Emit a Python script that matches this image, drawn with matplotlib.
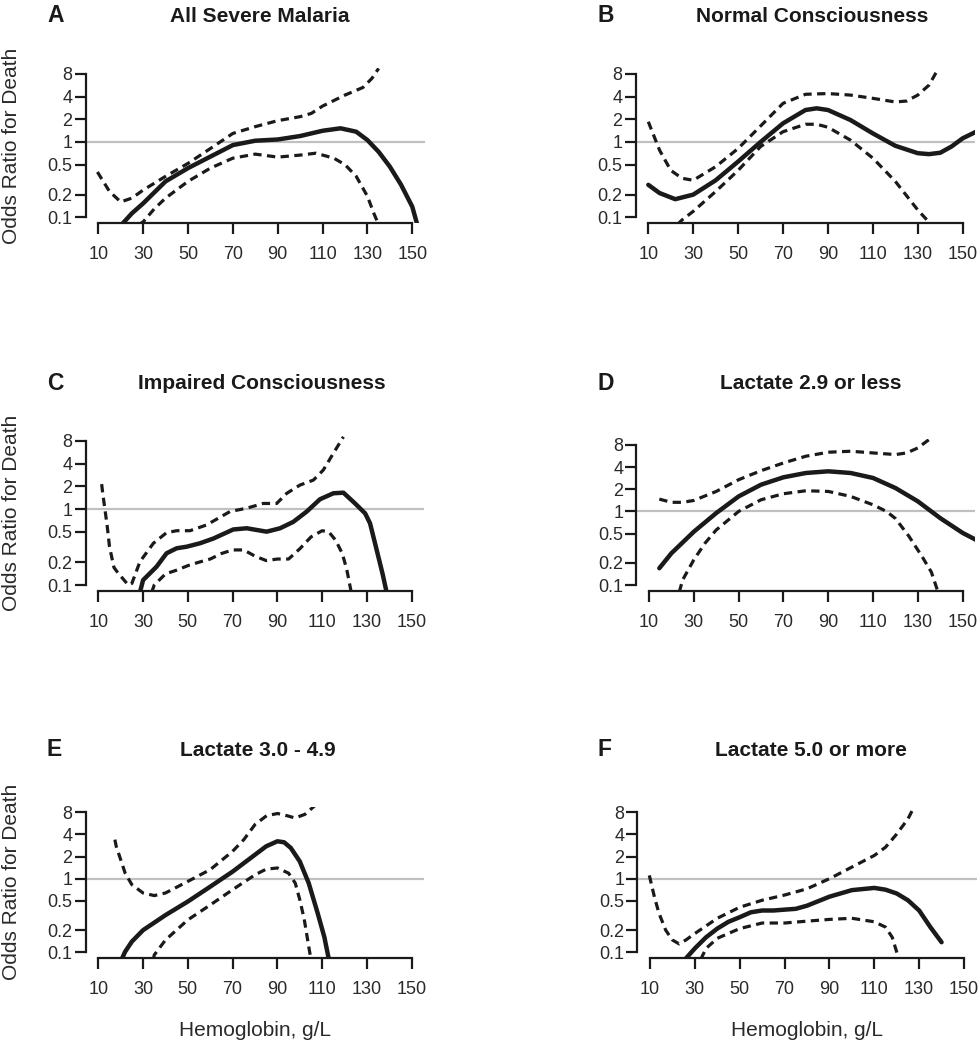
import matplotlib
matplotlib.use("Agg")
import matplotlib.pyplot as plt

plt.rcParams['font.family'] = ['Liberation Sans', 'DejaVu Sans']

# ---- data (hemoglobin g/L vs odds ratio) ----
titles = ["All Severe Malaria", "Normal Consciousness", "Impaired Consciousness",
          "Lactate 2.9 or less", "Lactate 3.0 - 4.9", "Lactate 5.0 or more"]
letters = ["A", "B", "C", "D", "E", "F"]
x_ticks = [10, 30, 50, 70, 90, 110, 130, 150]
y_ticks = [0.1, 0.2, 0.5, 1, 2, 4, 8]
y_ticklabels = ["0.1", "0.2", "0.5", "1", "2", "4", "8"]

# A
a_fit_x = [20.4, 25, 30, 40, 50, 60, 70, 80, 90, 100, 110, 118, 125, 130, 135, 140, 145, 150, 152.2]
a_fit = [0.08, 0.113, 0.153, 0.30, 0.45, 0.64, 0.91, 1.04, 1.08, 1.2, 1.41, 1.52, 1.37, 1.06, 0.74, 0.47, 0.27, 0.138, 0.08]
a_up_x = [9.6, 15, 20, 25, 30, 40, 50, 60, 70, 80, 90, 100, 105, 110, 120, 128, 132, 135]
a_up = [0.40, 0.22, 0.16, 0.18, 0.23, 0.35, 0.52, 0.82, 1.30, 1.6, 1.92, 2.17, 2.4, 3.0, 4.2, 5.3, 7.0, 9.5]
a_lo_x = [28, 30, 35, 40, 50, 60, 70, 80, 90, 100, 107, 115, 120, 125, 130, 133, 135]
a_lo = [0.08, 0.087, 0.13, 0.18, 0.30, 0.45, 0.61, 0.69, 0.63, 0.67, 0.71, 0.61, 0.50, 0.35, 0.19, 0.11, 0.08]

# B
b_fit_x = [10, 15, 22, 30, 40, 50, 60, 70, 80, 85, 90, 100, 110, 120, 130, 135, 140, 145, 150, 156]
b_fit = [0.27, 0.21, 0.174, 0.20, 0.31, 0.55, 1.0, 1.77, 2.66, 2.8, 2.66, 1.96, 1.30, 0.89, 0.71, 0.69, 0.72, 0.87, 1.12, 1.37]
b_up_x = [10, 15, 20, 25, 30, 40, 50, 60, 70, 80, 90, 100, 110, 120, 125, 130, 135, 138, 139.5]
b_up = [1.86, 0.78, 0.42, 0.33, 0.31, 0.47, 0.82, 1.63, 3.26, 4.3, 4.4, 4.2, 3.8, 3.4, 3.5, 4.2, 5.7, 8.2, 9.5]
b_lo_x = [22.9, 25, 30, 40, 50, 60, 70, 80, 85, 90, 100, 110, 120, 130, 136]
b_lo = [0.08, 0.092, 0.12, 0.22, 0.42, 0.87, 1.37, 1.72, 1.72, 1.57, 1.06, 0.61, 0.30, 0.125, 0.08]

# C
c_fit_x = [28.6, 30, 36, 40.5, 45, 49.5, 55.4, 61.4, 70.3, 76.3, 85.2, 91.2, 97.1, 103.1, 109, 115,
           119.5, 124.7, 129.2, 131.4, 134, 137, 138.8]
c_fit = [0.08, 0.116, 0.174, 0.262, 0.305, 0.32, 0.355, 0.41, 0.54, 0.56, 0.505, 0.56, 0.68, 0.93, 1.35, 1.62,
         1.65, 1.19, 0.88, 0.65, 0.32, 0.14, 0.08]
c_up_x = [11.5, 12, 13, 14, 15, 17, 18.9, 23.4, 25, 28.6, 34.6, 40.5, 45, 51, 58.4, 68.8, 76.3, 83.7,
          89.7, 94.2, 100.1, 106.1, 110.5, 115, 119.5]
c_up = [2.14, 1.6, 0.98, 0.59, 0.32, 0.17, 0.143, 0.10, 0.105, 0.203, 0.355, 0.49, 0.52, 0.52, 0.62, 0.93, 1.03, 1.19,
        1.19, 1.62, 2.08, 2.42, 3.28, 5.45, 9.0]
c_lo_x = [33.8, 35, 40, 45, 50, 55, 60, 65, 70, 75, 80, 85, 90, 95, 100, 105, 110, 113, 116, 119, 121, 123]
c_lo = [0.08, 0.10, 0.14, 0.157, 0.18, 0.20, 0.22, 0.26, 0.29, 0.29, 0.24, 0.21, 0.22, 0.22, 0.30, 0.43, 0.52,
        0.50, 0.39, 0.26, 0.16, 0.08]

# D
d_fit_x = [14.6, 20, 30, 40, 50, 60, 70, 80, 90, 100, 110, 120, 130, 140, 150, 156]
d_fit = [0.169, 0.27, 0.53, 0.95, 1.60, 2.31, 2.91, 3.33, 3.51, 3.33, 2.85, 2.08, 1.37, 0.81, 0.51, 0.41]
d_up_x = [14.6, 20, 25, 30, 40, 50, 60, 70, 80, 90, 100, 110, 120, 125, 130, 135, 138.4]
d_up = [1.47, 1.33, 1.33, 1.41, 1.87, 2.70, 3.58, 4.56, 5.63, 6.38, 6.58, 6.24, 5.93, 6.24, 7.3, 9.5, 10.9]
d_lo_x = [23.5, 25, 30, 35, 40, 50, 60, 70, 80, 90, 100, 110, 116, 120, 126, 132, 136, 139]
d_lo = [0.08, 0.117, 0.22, 0.37, 0.56, 1.0, 1.44, 1.74, 1.91, 1.87, 1.60, 1.23, 1.0, 0.8, 0.46, 0.24, 0.15, 0.08]

# E
e_fit_x = [20.4, 22, 25, 30, 40, 50, 60, 70, 80, 85, 90, 93, 96, 100, 104, 108, 111, 113]
e_fit = [0.08, 0.102, 0.14, 0.20, 0.32, 0.49, 0.78, 1.25, 2.12, 2.76, 3.23, 3.13, 2.62, 1.72, 0.87, 0.34, 0.16, 0.08]
e_up_x = [17.4, 18, 20, 22, 25, 30, 35, 40, 50, 60, 70, 75, 80, 85.2, 90.1, 94.2, 97.9, 102.3, 107.3]
e_up = [3.4, 2.76, 1.82, 1.19, 0.83, 0.64, 0.59, 0.64, 0.92, 1.33, 2.36, 3.4, 5.45, 7.2, 7.7, 7.2, 6.7, 7.5, 10.2]
e_lo_x = [34.6, 35, 40, 50, 60, 70, 80, 85, 90, 95, 98, 100, 102, 104, 105]
e_lo = [0.08, 0.092, 0.147, 0.276, 0.44, 0.71, 1.13, 1.35, 1.40, 1.19, 0.87, 0.52, 0.28, 0.12, 0.08]

# F
f_fit_x = [25.6, 30, 35, 40, 45, 50, 55, 60, 65, 70, 75, 80, 90, 100, 110, 115, 120, 125, 130, 135, 140]
f_fit = [0.08, 0.113, 0.16, 0.21, 0.26, 0.30, 0.35, 0.37, 0.37, 0.38, 0.39, 0.43, 0.57, 0.70, 0.75, 0.71, 0.63,
         0.51, 0.37, 0.22, 0.137]
f_up_x = [9.7, 12, 14, 17, 20, 23, 26, 30, 40, 50, 60, 70, 80, 90, 100, 110, 115, 120, 125, 128]
f_up = [1.11, 0.56, 0.34, 0.20, 0.147, 0.13, 0.147, 0.18, 0.29, 0.41, 0.51, 0.60, 0.73, 1.0, 1.44, 2.07, 2.68,
        4.05, 6.5, 9.8]
f_lo_x = [32.6, 35, 40, 50, 60, 70, 80, 90, 100, 110, 115, 118, 121]
f_lo = [0.08, 0.113, 0.155, 0.21, 0.25, 0.25, 0.265, 0.28, 0.29, 0.26, 0.22, 0.16, 0.08]

series = [
    (a_fit_x, a_fit, a_up_x, a_up, a_lo_x, a_lo),
    (b_fit_x, b_fit, b_up_x, b_up, b_lo_x, b_lo),
    (c_fit_x, c_fit, c_up_x, c_up, c_lo_x, c_lo),
    (d_fit_x, d_fit, d_up_x, d_up, d_lo_x, d_lo),
    (e_fit_x, e_fit, e_up_x, e_up, e_lo_x, e_lo),
    (f_fit_x, f_fit, f_up_x, f_up, f_lo_x, f_lo),
]

# ---- layout: pixel positions of x=10, x=150, y=0.1, y=8 in each panel ----
W, H = 979, 1050
calib = [
    (98.3, 412.3, 217.3, 74.0),
    (648.3, 962.7, 217.3, 74.0),
    (98.3, 411.7, 585.0, 440.7),
    (649.0, 962.7, 585.0, 445.0),
    (98.3, 411.7, 952.3, 812.3),
    (650.0, 964.0, 952.3, 812.3),
]
title_pos = [(260, 16), (812, 16), (262, 383), (811, 383), (258, 750), (811, 750)]
letter_x = [47, 598, 47, 598, 47, 598]

fig = plt.figure(figsize=(W / 100, H / 100), dpi=100)
ink = "#1a1a1a"

for i in range(6):
    x10, x150, y01, y8 = calib[i]
    ppu = (x150 - x10) / 140.0
    left = x10 - 5.6 * ppu
    right = x150 + 5.6 * ppu
    dec = (y01 - y8) / 1.903
    bottom = y01 + 0.076 * dec
    top = y8 - 0.076 * dec
    ax = fig.add_axes([left / W, 1 - bottom / H, (right - left) / W, (bottom - top) / H])
    ax.set_yscale('log')
    ax.set_xlim(4.4, 155.6)
    ax.set_ylim(10 ** -1.076, 10 ** 0.979)

    fx, fv, ux, uv, lx, lv = series[i]
    ax.axhline(1, color="#c0c0c0", lw=1.6, zorder=1)
    ax.plot(fx, fv, color=ink, lw=3.2, solid_capstyle='round', solid_joinstyle='round', zorder=3)
    for xs, vs in ((ux, uv), (lx, lv)):
        ax.plot(xs, vs, color=ink, lw=2.3, linestyle=(0, (2.6, 1.7)), dash_capstyle='butt', zorder=2)

    ax.set_yticks(y_ticks)
    ax.set_yticklabels(y_ticklabels)
    ax.yaxis.set_minor_locator(matplotlib.ticker.NullLocator())
    ax.set_xticks(x_ticks)
    ax.set_xticklabels([str(t) for t in x_ticks])
    for s in ("top", "right"):
        ax.spines[s].set_visible(False)
    ax.spines["left"].set_bounds(0.1, 8)
    ax.spines["bottom"].set_bounds(10, 150)
    for s in ("left", "bottom"):
        ax.spines[s].set_linewidth(1.6)
        ax.spines[s].set_color(ink)
    ax.tick_params(axis='both', direction='out', length=8, width=1.6, color=ink,
                   labelsize=13, labelcolor="#2a2a2a")
    ax.tick_params(axis='y', pad=1.5)
    ax.tick_params(axis='x', pad=8.5)
    ax.patch.set_visible(False)

    tx, ty = title_pos[i]
    fig.text(tx / W, 1 - ty / H, titles[i], ha='center', va='center', fontsize=15,
             fontweight='bold', color=ink)
    fig.text(letter_x[i] / W, 1 - ty / H, letters[i], ha='left', va='center', fontsize=16.5,
             fontweight='bold', color=ink)

    if i % 2 == 0:
        fig.text(12 / W, 1 - (top + bottom) / 2 / H, "Odds Ratio for Death", rotation=90,
                 ha='center', va='center', fontsize=15, color="#2a2a2a")
    if i >= 4:
        fig.text((left + right) / 2 / W, 1 - 1030 / H, "Hemoglobin, g/L", ha='center',
                 va='center', fontsize=15, color="#2a2a2a")

fig.savefig("out.png", dpi=100)
